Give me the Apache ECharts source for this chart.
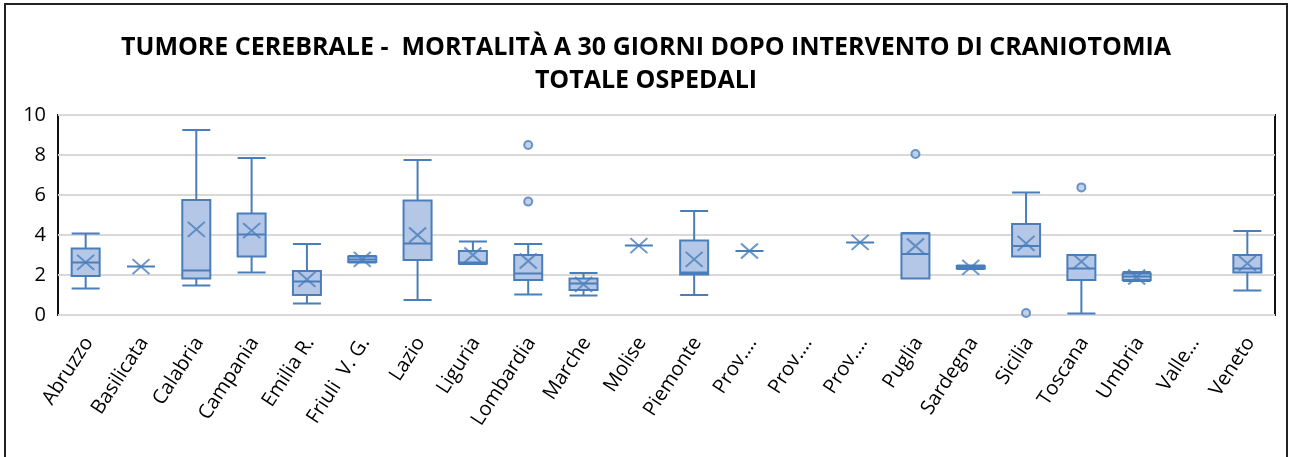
<!DOCTYPE html>
<html>
<head>
<meta charset="utf-8">
<script src="https://cdn.jsdelivr.net/npm/echarts@6/dist/echarts.min.js"></script>
<style>html,body{margin:0;padding:0;background:#fff}#c{width:1292px;height:457px}</style>
</head>
<body>
<div id="c"></div>
<script>
const categories = ['Abruzzo','Basilicata','Calabria','Campania','Emilia R.','Friuli  V. G.','Lazio','Liguria','Lombardia','Marche','Molise','Piemonte','Prov.…','Prov.…','Prov.…','Puglia','Sardegna','Sicilia','Toscana','Umbria','Valle…','Veneto'];
const mins    = [1.32, 2.42, 1.47, 2.12, 0.58, 2.62, 0.75, 2.55, 1.03, 0.97, 3.47, 1.00, 3.20, null, 3.63, 1.82, 2.30, 2.92, 0.08, 1.70, null, 1.22];
const q1s     = [1.95, 2.42, 1.82, 2.92, 1.00, 2.65, 2.75, 2.58, 1.75, 1.25, 3.47, 2.03, 3.20, null, 3.63, 1.83, 2.32, 2.92, 1.75, 1.75, null, 2.13];
const medians = [2.62, 2.42, 2.22, 4.03, 1.67, 2.78, 3.58, 2.62, 2.08, 1.58, 3.47, 2.12, 3.20, null, 3.63, 3.05, 2.38, 3.45, 2.33, 1.92, null, 2.33];
const q3s     = [3.33, 2.42, 5.75, 5.08, 2.20, 2.92, 5.72, 3.20, 3.00, 1.83, 3.47, 3.72, 3.20, null, 3.63, 4.08, 2.45, 4.55, 3.00, 2.08, null, 3.00];
const maxs    = [4.08, 2.42, 9.25, 7.85, 3.55, 2.95, 7.75, 3.68, 3.55, 2.10, 3.47, 5.20, 3.20, null, 3.63, 4.10, 2.48, 6.12, 3.00, 2.15, null, 4.20];
const means   = [2.63, 2.42, 4.28, 4.22, 1.78, 2.78, 4.00, 3.00, 2.70, 1.53, 3.47, 2.78, 3.20, null, 3.63, 3.45, 2.38, 3.58, 2.67, 1.90, null, 2.58];
const outlierIdx  = [8, 8, 15, 17, 18];
const outlierVals = [8.50, 5.67, 8.05, 0.10, 6.38];
const yTicks = [0, 2, 4, 6, 8, 10];

const idx = categories.map((_, i) => i);
const boxData = [];
idx.forEach(i => { if (mins[i] !== null) boxData.push([i, mins[i], q1s[i], medians[i], q3s[i], maxs[i]]); });
const meanData = [];
idx.forEach(i => { if (means[i] !== null) meanData.push([i, means[i]]); });
const outData = outlierIdx.map((c, k) => [c, outlierVals[k]]);

const blue = '#4a7ebb';
const fillBlue = '#b4c7e7';
const chart = echarts.init(document.getElementById('c'), null, {renderer: 'canvas'});
chart.setOption({
  animation: false,
  backgroundColor: '#fff',
  title: {
    text: 'TUMORE CEREBRALE -  MORTALITÀ A 30 GIORNI DOPO INTERVENTO DI CRANIOTOMIA\nTOTALE OSPEDALI',
    left: 'center', top: 26,
    textStyle: {fontFamily: 'Open Sans', fontWeight: 'bold', fontSize: 25, lineHeight: 33, color: '#000'}
  },
  graphic: [{
    type: 'rect', shape: {x: 5, y: 4, width: 1282, height: 520},
    style: {fill: 'none', stroke: '#222', lineWidth: 2}, silent: true, z: 100
  }],
  grid: {left: 58, right: 17, top: 115, bottom: 142, show: true, borderColor: '#111', borderWidth: 2, backgroundColor: 'transparent'},
  xAxis: {
    type: 'value', min: -0.5, max: categories.length - 0.5, interval: 1,
    splitLine: {show: false}, axisTick: {show: false}, axisLine: {show: false},
    axisLabel: {show: false}
  },
  yAxis: {
    type: 'value', min: 0, max: 10, interval: 2,
    axisLine: {show: false}, axisTick: {show: false},
    splitLine: {lineStyle: {color: '#d9d9d9', width: 2}},
    axisLabel: {fontFamily: 'Open Sans', fontSize: 20, color: '#000', margin: 12,
      formatter: v => yTicks.includes(v) ? String(v) : ''}
  },
  series: [
    {
      type: 'boxplot', data: boxData, encode: {x: 0, y: [1, 2, 3, 4, 5]},
      boxWidth: [28, 28],
      itemStyle: {color: fillBlue, borderColor: blue, borderWidth: 2},
      z: 3
    },
    {
      type: 'scatter', data: meanData,
      symbol: 'path://M0,0L10,10M10,0L0,10', symbolSize: [17, 15],
      itemStyle: {color: 'none', borderColor: blue, borderWidth: 2},
      z: 5
    },
    {
      type: 'scatter', data: outData, symbol: 'circle', symbolSize: 8,
      itemStyle: {color: fillBlue, borderColor: blue, borderWidth: 2},
      z: 5
    },
    {
      type: 'custom', data: idx.map(i => [i, 0]), silent: true, clip: false,
      renderItem: (params, api) => {
        const p = api.coord([api.value(0), 0]);
        return {
          type: 'text', x: p[0] + 3, y: p[1] + 24, rotation: 57 * Math.PI / 180,
          style: {text: categories[api.value(0)], fontFamily: 'Open Sans', fontSize: 20, fill: '#000',
            align: 'right', verticalAlign: 'middle'}
        };
      }
    }
  ]
});
</script>
</body>
</html>
